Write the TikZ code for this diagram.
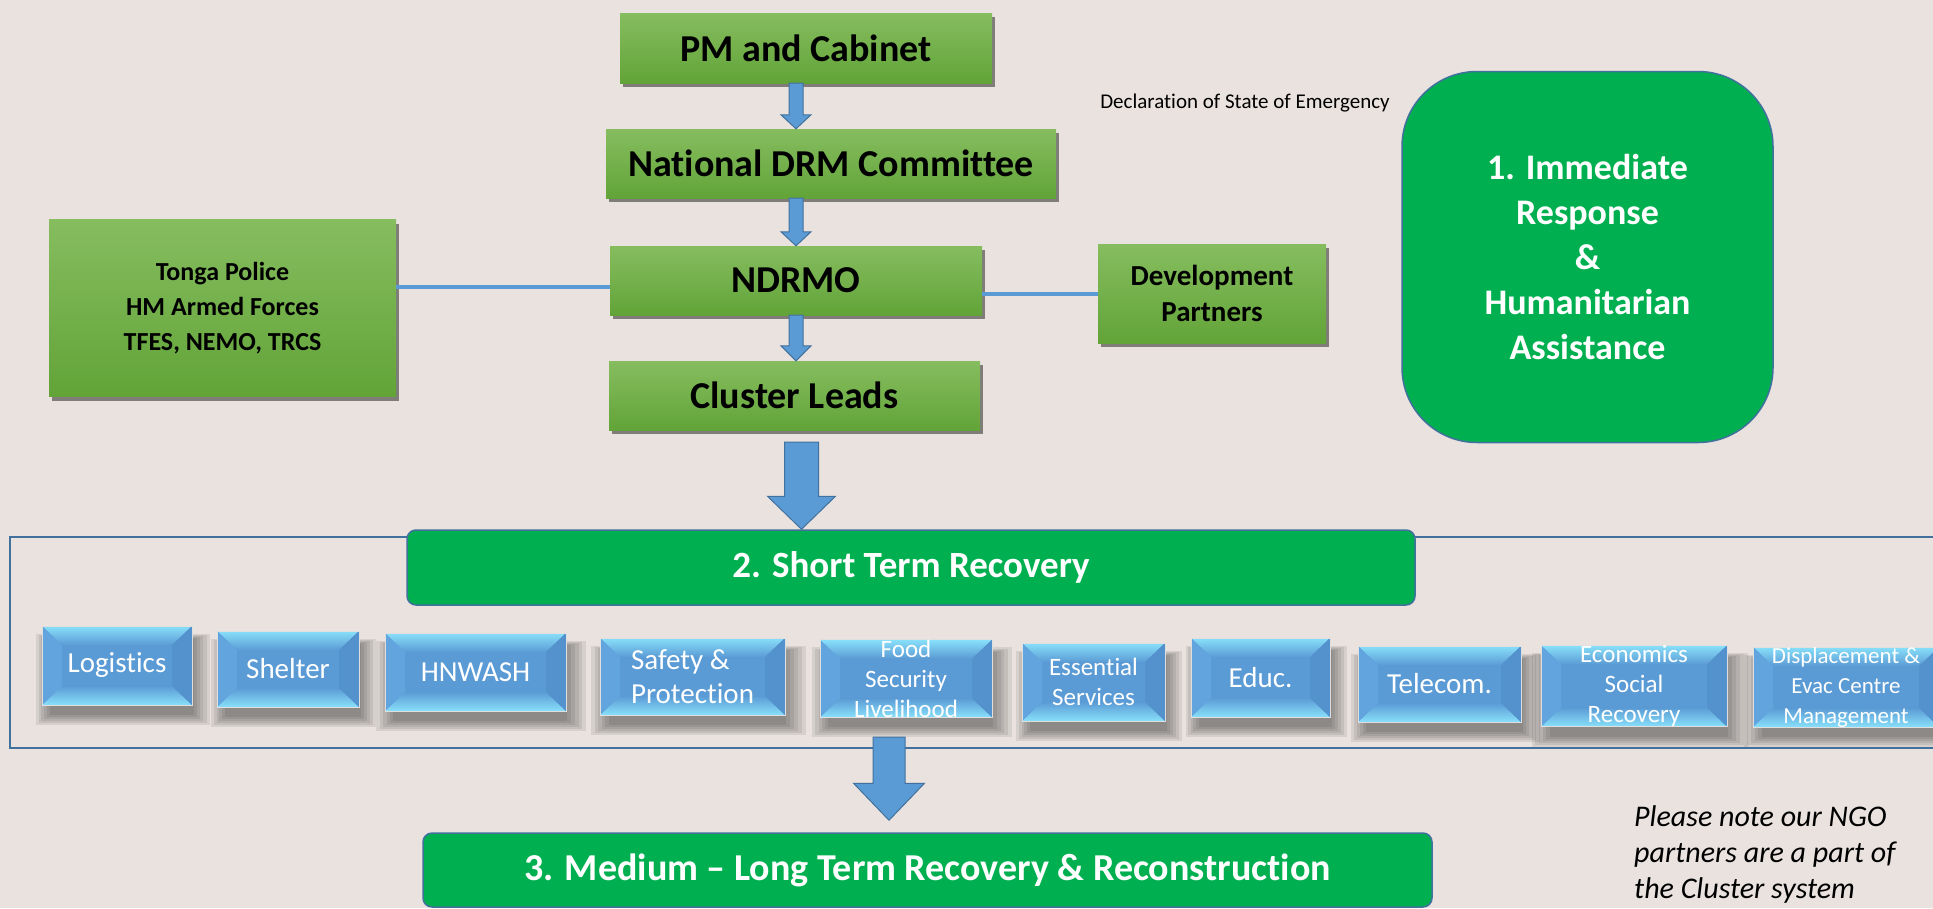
\documentclass[tikz,border=0pt]{standalone}
\usepackage{fontspec}
\setmainfont{Carlito}[Ligatures={NoCommon}]
\usetikzlibrary{calc,shadows}
\definecolor{bgc}{RGB}{233,226,223}
\definecolor{gtop}{RGB}{134,189,95}
\definecolor{gbot}{RGB}{98,164,56}
\definecolor{brightg}{RGB}{0,176,80}
\definecolor{edgeblue}{RGB}{65,113,156}
\definecolor{arrblue}{RGB}{91,155,213}
\definecolor{bevlight}{RGB}{136,224,250}
\definecolor{bevmid}{RGB}{91,155,213}
\definecolor{bevside}{RGB}{98,164,222}
\definecolor{bevdark}{RGB}{84,146,206}
\tikzset{
  greenbox/.style={top color=gtop, bottom color=gbot, text=black, align=center, inner sep=0pt,
    drop shadow={shadow xshift=3pt, shadow yshift=-4pt, opacity=0.45, fill=black}},
  bevel/.style={path picture={
    \coordinate (bNW) at (path picture bounding box.north west);
    \coordinate (bNE) at (path picture bounding box.north east);
    \coordinate (bSW) at (path picture bounding box.south west);
    \coordinate (bSE) at (path picture bounding box.south east);
    \fill[top color=bevlight, bottom color=bevmid] (bNW) -- (bNE) -- ([shift={(-20pt,-19pt)}]bNE) -- ([shift={(20pt,-19pt)}]bNW) -- cycle;
    \fill[top color=bevmid, bottom color=bevlight] (bSW) -- (bSE) -- ([shift={(-20pt,19pt)}]bSE) -- ([shift={(20pt,19pt)}]bSW) -- cycle;
    \fill[bevside] (bNW) -- ([shift={(20pt,-19pt)}]bNW) -- ([shift={(20pt,19pt)}]bSW) -- (bSW) -- cycle;
    \fill[bevdark] (bNE) -- ([shift={(-20pt,-19pt)}]bNE) -- ([shift={(-20pt,19pt)}]bSE) -- (bSE) -- cycle;
  }},
  softshadow/.style={general shadow={fill=black, opacity=0.08, shadow xshift=5pt, shadow yshift=-12pt, shadow scale=#1}},
  cluster/.style={fill=bevmid, draw=white!75!gray, line width=0.6pt, text=white, align=center, inner sep=0pt,
    softshadow=1.16, softshadow=1.12, softshadow=1.08, softshadow=1.04, softshadow=1.0, softshadow=0.96,
    bevel},
  big/.style={font=\fontsize{29}{34}\selectfont},
  small/.style={font=\fontsize{25}{30}\selectfont},
  stagebox/.style={fill=brightg, draw=edgeblue, line width=1.5pt, text=white, align=center, inner sep=0pt},
  blockarrow/.style={fill=arrblue, draw=edgeblue, line width=1pt, line join=miter},
  linkline/.style={draw=arrblue, line width=4pt},
  framebox/.style={draw=edgeblue, line width=1.5pt, inner sep=0pt},
  plaintext/.style={text=black, inner sep=0pt}
}
\newcommand\blkarrow[5]{%
  \path[blockarrow] let \p1=(#1), \p2=(#2) in
    (\x1-#3,\y1) -- (\x1-#3,\y2+#5) -- (\x1-#4,\y2+#5) -- (\x1,\y2)
    -- (\x1+#4,\y2+#5) -- (\x1+#3,\y2+#5) -- (\x1+#3,\y1) -- cycle;}
\begin{document}
\begin{tikzpicture}[x=1pt,y=-1pt]
\useasboundingbox (0,0) rectangle (1933,908);
\clip (0,0) rectangle (1933,908);
\fill[bgc] (0,0) rectangle (1933,908);

% top chain
\node[greenbox, minimum width=372pt, minimum height=70pt, font=\bfseries\fontsize{38}{44}\selectfont] (pm) at (806,48) {PM and Cabinet};
\node[greenbox, minimum width=450pt, minimum height=69pt, font=\bfseries\fontsize{38}{44}\selectfont] (ndc) at (831,163.5) {National DRM Committee};
\node[greenbox, minimum width=372pt, minimum height=69pt, font=\bfseries\fontsize{38}{44}\selectfont] (ndrmo) at (796,280.5) {NDRMO};
\node[greenbox, minimum width=371pt, minimum height=69pt, font=\bfseries\fontsize{38}{44}\selectfont] (cl) at (794.5,395.5) {Cluster Leads};
\node[greenbox, minimum width=347pt, minimum height=177pt, font=\bfseries\fontsize{26}{35}\selectfont] (tp) at (222.5,308) {Tonga Police\\HM Armed Forces\\TFES, NEMO, TRCS};
\node[greenbox, minimum width=228pt, minimum height=99pt, font=\bfseries\fontsize{29}{36}\selectfont] (dp) at (1212,293.5) {Development\\Partners};

\node[plaintext, font=\fontsize{21}{25}\selectfont] (decl) at (1245,103) {Declaration of State of Emergency};

\node[stagebox, rounded corners=75pt, minimum width=371pt, minimum height=371pt, font=\bfseries\fontsize{36}{45}\selectfont] (ir) at (1587.5,257) {1. Immediate\\Response\\\&\\Humanitarian\\Assistance};

% connectors top
\blkarrow{ndrmo.center |- pm.south}{ndrmo.center |- ndc.north}{7pt}{15pt}{14pt}
\blkarrow{ndrmo.center |- ndc.south}{ndrmo.north}{7pt}{15pt}{14pt}
\blkarrow{ndrmo.south}{ndrmo.center |- cl.north}{7pt}{15pt}{15pt}
\coordinate (lk1) at ([yshift=-6pt]ndrmo.west);
\draw[linkline] (lk1 -| tp.east) -- (lk1);
\draw[linkline] (ndrmo.east |- dp.west) -- (dp.west);

% short term frame
\node[framebox, minimum width=1940pt, minimum height=211pt] (frame) at (980,642.5) {};
\node[stagebox, rounded corners=9pt, minimum width=1008pt, minimum height=75pt, font=\bfseries\fontsize{37}{42}\selectfont] (st) at (911,567.5) {2. Short Term Recovery};
\coordinate (bigtop) at ([shift={(7pt,-12pt)}]cl.south);
\blkarrow{bigtop}{bigtop |- st.north}{17pt}{34pt}{33pt}

% clusters
\node[cluster, big, minimum width=150pt, minimum height=79pt] (lg) at (117,665.5) {Logistics};
\node[cluster, big, minimum width=142pt, minimum height=76pt] (sh) at (288,669) {Shelter};
\node[cluster, big, minimum width=181pt, minimum height=78pt] (hn) at (475.5,672) {HNWASH};
\node[cluster, big, align=left, minimum width=185pt, minimum height=77pt, font=\fontsize{29}{34}\selectfont] (sp) at (692.5,676.5) {Safety \&\\Protection};
\node[cluster, small, minimum width=172pt, minimum height=75pt] (fs) at (906,678.5) {Food\\Security\\Livelihood};
\node[cluster, small, minimum width=143pt, minimum height=78pt] (es) at (1093.5,682) {Essential\\Services};
\node[cluster, big, minimum width=139pt, minimum height=79pt] (ed) at (1260.5,677.5) {Educ.};
\node[cluster, big, minimum width=163pt, minimum height=76pt] (tc) at (1439.5,684) {Telecom.};
\node[cluster, small, minimum width=186pt, minimum height=78pt] (ec) at (1634,686) {Economics\\Social\\Recovery};
\node[cluster, minimum width=186pt, minimum height=78pt, font=\fontsize{23}{30}\selectfont] (dc) at (1846,687) {Displacement \&\\Evac Centre\\Management};

% medium
\node[stagebox, rounded corners=9pt, minimum width=1009pt, minimum height=74pt, font=\bfseries\fontsize{38}{42}\selectfont] (md) at (927.5,870) {3. Medium -- Long Term Recovery \& Reconstruction};
\coordinate (lowtop) at (889,737);
\coordinate (lowtip) at ([xshift=-38.5pt, yshift=12pt]md.north);
\blkarrow{lowtop}{lowtip}{16pt}{35.5pt}{37pt}

\node[plaintext, anchor=west, align=left, font=\itshape\fontsize{30}{36}\selectfont] (note) at (1634,854) {Please note our NGO\\partners are a part of\\the Cluster system};
\end{tikzpicture}
\end{document}
